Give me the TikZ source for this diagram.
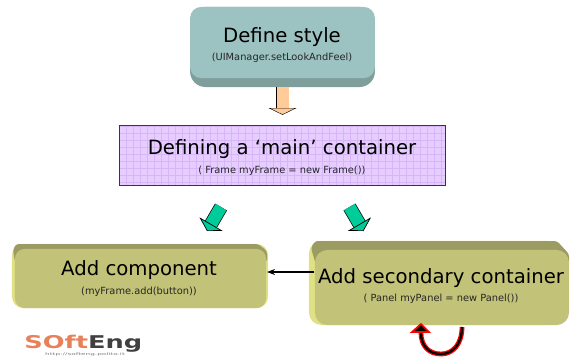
\documentclass[tikz,border=0pt]{standalone}
\usepackage{fontspec}
\setmainfont{DejaVu Sans}
\usetikzlibrary{positioning}
\usetikzlibrary{arrows.meta}
\definecolor{stylebody}{HTML}{9CC3C1}
\definecolor{styleedge}{HTML}{7F9F9D}
\definecolor{mainfill}{HTML}{E6CCFF}
\definecolor{maingrid}{HTML}{D6B6F6}
\definecolor{addbody}{HTML}{C2C278}
\definecolor{addedge}{HTML}{9C9C62}
\definecolor{addlight}{HTML}{E0E084}
\definecolor{orangearrow}{HTML}{FFCC99}
\definecolor{greenarrow}{HTML}{00CC99}
\definecolor{logoorange}{HTML}{E8805A}
\newcommand{\titletext}[1]{{\fontsize{14pt}{17pt}\selectfont #1}}
\newcommand{\subtext}[1]{{\fontsize{7pt}{8pt}\selectfont\color{black!85} #1}}
\tikzset{stylebox/.style={rectangle,rounded corners=8pt,fill=stylebody,
inner sep=0pt,minimum height=1.78cm, minimum width=4.62cm}}
\tikzset{styleback/.style={rectangle,rounded corners=11pt,fill=styleedge,
inner sep=0pt,minimum height=2cm, minimum width=4.62cm}}
\tikzset{mainbox/.style={rectangle,fill=mainfill,
inner sep=0pt,minimum height=1.52cm, minimum width=8.17cm}}
\tikzset{mainborder/.style={rectangle,draw=black!75!mainfill,line width=0.7pt,
inner sep=0pt,minimum height=1.52cm, minimum width=8.17cm}}
\tikzset{addbox/.style={rectangle,rounded corners=7pt,fill=addbody,
inner sep=0pt,minimum height=1.48cm, minimum width=6.28cm}}
\tikzset{addback/.style={rectangle,rounded corners=8pt,fill=addlight,
inner sep=0pt,minimum height=1.6cm, minimum width=6.4cm}}
\tikzset{secbox/.style={rectangle,rounded corners=9pt,fill=addbody,
inner sep=0pt,minimum height=1.88cm, minimum width=6.35cm}}
\tikzset{secback/.style={rectangle,rounded corners=9pt,fill=addlight,
inner sep=0pt,minimum height=2.1cm, minimum width=6.28cm}}
\tikzset{boxtext/.style={align=center,inner sep=0pt}}
\tikzset{blockorange/.style={line width=0.3pt,double=orangearrow,double distance=0.3cm,draw=black,
-{Triangle[length=0.17cm,width=0.7cm,fill=orangearrow,color=black,line width=0.3pt]}}}
\tikzset{blockgreen/.style={line width=0.5pt,double=greenarrow,double distance=0.31cm,draw=black,
-{Triangle[length=0.2cm,width=0.67cm,fill=greenarrow,color=black,line width=0.5pt]}}}

\begin{document}
\begin{tikzpicture}[x=0.025cm,y=-0.025cm]
    \useasboundingbox (0,0) rectangle (572,356);

    % top box
    \node[styleback] (boxStyleback) at (282.5,47) {};
    \node[stylebox] (boxStyle) at (282.5,42.5) {};
    \node[boxtext] (textStyle) at (282,45) {\titletext{Define style}\\[1.2pt]\subtext{(UIManager.setLookAndFeel)}};

    % main box
    \node[mainbox] (boxMain) at (282.5,155.5) {};
    \begin{scope}
        \clip (boxMain.south west) rectangle (boxMain.north east);
        \draw[maingrid,line width=0.3pt,step=0.175cm] (boxMain.south west) grid (boxMain.north east);
    \end{scope}
    \node[mainborder] (boxMainb) at (boxMain) {};
    \node[boxtext] (textMain) at (282,157.5) {\titletext{Defining a ‘main’ container}\\[1.2pt]\subtext{( Frame myFrame = new Frame())}};

    % lower boxes
    \node[addback] (boxAddback) at (140,276) {};
    \fill[addedge,rounded corners=2pt] (16,244) -- (258,244) -- (267,251) -- (267,262) -- (15,262) -- (13,250) -- cycle;
    \node[addbox] (boxAdd) at (140.5,278.5) {};
    \node[boxtext] (textAdd) at (139,278.5) {\titletext{Add component}\\[1.2pt]\subtext{(myFrame.add(button))}};

    \node[secback] (boxSecback) at (434.5,283) {};
    \fill[addedge,rounded corners=2pt] (315,241) -- (557,241) -- (569,254) -- (569,265) -- (316,265) -- (311,248) -- cycle;
    \node[secbox] (boxSec) at (442,287.5) {};
    \node[boxtext] (textSec) at (441,286) {\titletext{Add secondary container}\\[1.2pt]\subtext{( Panel myPanel = new Panel())}};

    % block arrows
    \draw[blockorange,shorten >=0.25cm] (boxStyleback.south) -- (boxMain.north);

    \coordinate (mainl) at (221,207);
    \coordinate (addr) at (207,231);
    \draw[blockgreen] (mainl) -- (addr);
    \coordinate (mainr) at (349.5,207);
    \coordinate (secl) at (363.5,231);
    \draw[blockgreen] (mainr) -- (secl);

    % black arrow
    \coordinate (secw) at (314,272);
    \coordinate (adde) at (267,272);
    \draw[line width=1.1pt,-{Stealth[length=2mm]}] (secw) -- (adde);

    % red loop
    \coordinate (loopa) at (462,327);
    \coordinate (loopb) at (421,333);
    \coordinate (loopc) at (441,354);
    \draw[red,line width=3.4pt] (loopa) .. controls (462,344) and (453,354) .. (loopc) .. controls (428,354) and (421,345) .. (loopb);
    \draw[black,line width=1.6pt] (loopa) .. controls (462,344) and (453,354) .. (loopc) .. controls (428,354) and (421,345) .. (loopb);
    \coordinate (tipa) at (412,332);
    \coordinate (tipb) at (429,332);
    \coordinate (tipc) at (421,324);
    \fill[black,draw=red,line width=1.2pt] (tipa) -- (tipb) -- (tipc) -- cycle;

    % logo
    \node[inner sep=0pt,anchor=base west,xscale=1.46,transform shape] (logo) at (24,348) {\textbf{\color{logoorange}\fontsize{12.5pt}{13pt}\selectfont SOft\color{black!75}Eng}};
    \node[inner sep=0pt,text=black!50,xscale=2,transform shape] (logoUrl) at (85,354.2) {\fontsize{2.6pt}{3pt}\selectfont http://softeng.polito.it};
\end{tikzpicture}
\end{document}
